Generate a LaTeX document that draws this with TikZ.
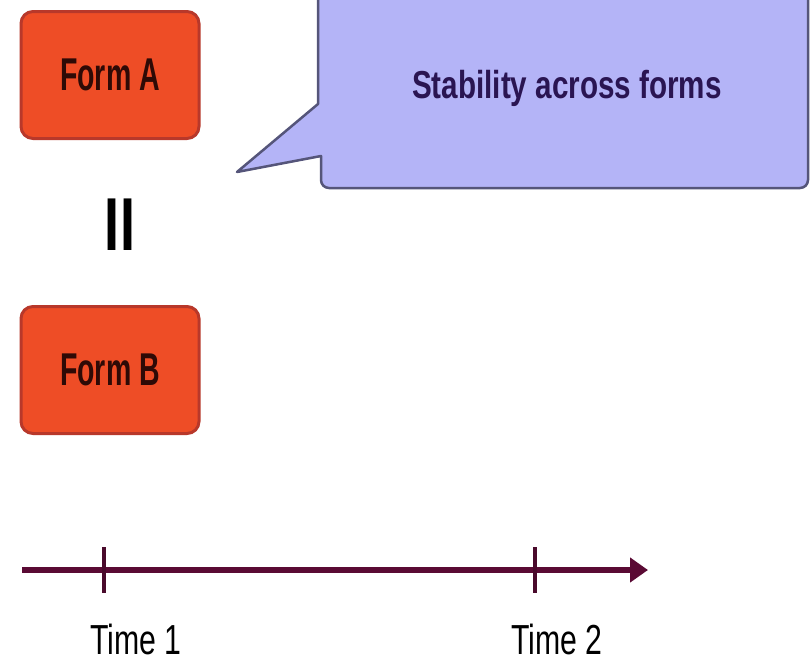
\documentclass[tikz,border=0pt]{standalone}
\usepackage{graphicx}
\usepackage{fontspec}
\setmainfont{Liberation Sans}
\usetikzlibrary{arrows.meta}
\definecolor{formfill}{HTML}{EE4D26}
\definecolor{formdraw}{HTML}{B8382A}
\definecolor{formtext}{HTML}{2E0A06}
\definecolor{callfill}{HTML}{B4B4F7}
\definecolor{calldraw}{HTML}{55557A}
\definecolor{calltext}{HTML}{2A1552}
\definecolor{axiscol}{HTML}{5A0A34}
\definecolor{tickcol}{HTML}{4A0A2C}
\begin{document}
\begin{tikzpicture}[x=1pt,y=-1pt,
  formbox/.style={draw=formdraw, line width=3pt, fill=formfill, rounded corners=12pt,
    minimum width=178pt, minimum height=127pt, inner sep=0pt, text=formtext,
    font=\fontsize{46}{46}\selectfont\bfseries},
  calloutshape/.style={draw=calldraw, line width=2.5pt, fill=callfill, line join=round},
  callouttext/.style={text=calltext, inner sep=0pt, font=\fontsize{39}{39}\selectfont\bfseries},
  axisline/.style={draw=axiscol, line width=6pt},
  ticklines/.style={draw=tickcol, line width=3.5pt},
  timelabel/.style={inner sep=0pt, anchor=base, text=black, font=\fontsize{42}{42}\selectfont},
  eqsign/.style={inner sep=0pt, text=black, font=\fontsize{75}{75}\selectfont\bfseries}
]
\useasboundingbox (0,0) rectangle (811,665);
\fill[white] (0,0) rectangle (811,665);

% Form boxes
\node[formbox] (formA) at (110,75) {\scalebox{0.62}[1]{Form A}};
\node[formbox] (formB) at (110,370) {\scalebox{0.62}[1]{Form B}};

% equality sign
\node[eqsign] (eq) at (120,225) {\scalebox{0.72}[1]{II}};

% callout
\draw[calloutshape] (318,-10) -- (318,104) -- (237,172) -- (321,156)
  [rounded corners=8pt] -- (321,188) -- (808,188) -- (808,-10) [sharp corners] -- cycle;
\node[callouttext] (stab) at (567,88) {\scalebox{0.76}[1]{Stability across forms}};

% timeline
\coordinate (L) at (22,570);
\coordinate (R) at (648,570);
\draw[axisline, -{Triangle[length=18pt,width=24pt]}] (L) -- (R);
\coordinate (t1a) at (104,547);
\coordinate (t1b) at (104,593);
\coordinate (t2a) at (535,547);
\coordinate (t2b) at (535,593);
\draw[ticklines] (t1a) -- (t1b);
\draw[ticklines] (t2a) -- (t2b);
\node[timelabel] (time1) at (136,654) {\scalebox{0.72}[1]{Time 1}};
\node[timelabel] (time2) at (557,654) {\scalebox{0.72}[1]{Time 2}};
\end{tikzpicture}
\end{document}
